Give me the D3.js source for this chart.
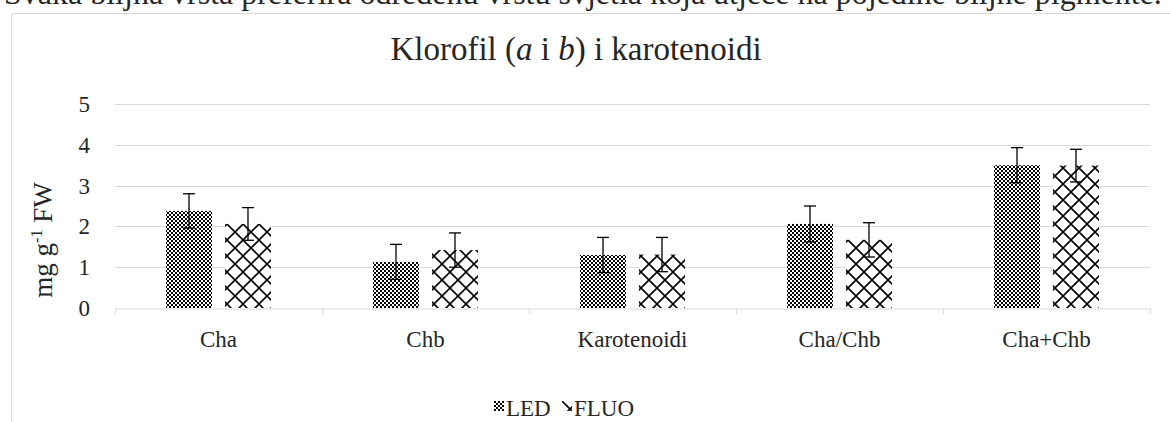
<!DOCTYPE html>
<html>
<head>
<meta charset="utf-8">
<script src="https://cdn.jsdelivr.net/npm/d3@7"></script>
<style>
  body { margin: 0; background: #fff; }
  text { font-family: "Liberation Serif", "Times New Roman", serif; fill: #262626; }
</style>
</head>
<body>
<div id="chart"></div>
<script>
// data
var categories = ["Cha", "Chb", "Karotenoidi", "Cha/Chb", "Cha+Chb"];
var series = ["LED", "FLUO"];
var ledValues = [2.38, 1.13, 1.30, 2.06, 3.50];
var ledErrors = [0.42, 0.43, 0.43, 0.44, 0.43];
var fluoValues = [2.06, 1.42, 1.31, 1.67, 3.49];
var fluoErrors = [0.40, 0.42, 0.42, 0.42, 0.40];
var yTicks = [0, 1, 2, 3, 4, 5];

// set dimensions
var width = 1170, height = 422;
var margin = {left: 115, right: 20, top: 104, bottom: 114};

var svg = d3.select("#chart")
            .append("svg")
            .attr("width", width)
            .attr("height", height);

// patterns
var defs = svg.append("defs");
var checker = defs.append("pattern")
            .attr("id", "checker")
            .attr("patternUnits", "userSpaceOnUse")
            .attr("width", 4).attr("height", 4);
checker.append("rect").attr("width", 4).attr("height", 4).attr("fill", "#fff");
checker.append("rect").attr("width", 2).attr("height", 2).attr("fill", "#000");
checker.append("rect").attr("x", 2).attr("y", 2).attr("width", 2).attr("height", 2).attr("fill", "#000");

var diamond = defs.append("pattern")
            .attr("id", "diamond")
            .attr("patternUnits", "userSpaceOnUse")
            .attr("width", 16).attr("height", 16);
diamond.append("rect").attr("width", 16).attr("height", 16).attr("fill", "#fff");
diamond.append("path")
       .attr("d", "M0,0L16,16M16,0L0,16M-2,14L2,18M14,-2L18,2M-2,2L2,-2M14,18L18,14")
       .attr("stroke", "#000").attr("stroke-width", 1.6);

var fills = {LED: "url(#checker)", FLUO: "url(#diamond)"};

// text above the chart (cut off by the page edge)
svg.append("text")
   .attr("x", 4).attr("y", 4)
   .attr("font-size", "32px")
   .attr("fill", "#000")
   .text("Svaka biljna vrsta preferira određenu vrstu svjetla koja utječe na pojedine biljne pigmente.");

// chart frame
svg.append("path")
   .attr("d", "M11.5," + height + "V13.5H" + width)
   .attr("fill", "none")
   .attr("stroke", "#d9d9d9");

// title
var title = svg.append("text")
   .attr("x", 576).attr("y", 60)
   .attr("text-anchor", "middle")
   .attr("font-size", "33px");
title.append("tspan").text("Klorofil (");
title.append("tspan").attr("font-style", "italic").text("a");
title.append("tspan").text(" i ");
title.append("tspan").attr("font-style", "italic").text("b");
title.append("tspan").text(") i karotenoidi");

// scales
var x0 = d3.scaleBand()
           .domain(categories)
           .range([margin.left, width - margin.right]);
var bw = x0.bandwidth();
var x1 = d3.scaleBand()
           .domain(series)
           .range([bw / 2 - 52.5, bw / 2 + 52.5])
           .paddingInner(0.22);
var y = d3.scaleLinear()
          .domain([0, 5])
          .range([height - margin.bottom, margin.top]);

// gridlines
svg.append("g")
   .selectAll("line")
   .data(yTicks.slice(1))
   .enter().append("line")
   .attr("x1", margin.left).attr("x2", width - margin.right)
   .attr("y1", function(d){ return Math.round(y(d)) + 0.5; })
   .attr("y2", function(d){ return Math.round(y(d)) + 0.5; })
   .attr("stroke", "#d9d9d9");

// y tick labels
svg.append("g")
   .selectAll("text")
   .data(yTicks)
   .enter().append("text")
   .attr("x", 90)
   .attr("y", function(d){ return y(d); })
   .attr("dy", "0.35em")
   .attr("text-anchor", "end")
   .attr("font-size", "23px")
   .text(function(d){ return d; });

// x axis
var xAxis = svg.append("g")
   .attr("transform", "translate(0," + (Math.round(y(0)) + 0.5) + ")")
   .call(d3.axisBottom(x0).tickSize(0).tickPadding(22));
xAxis.select(".domain").attr("stroke", "#d9d9d9");
xAxis.selectAll("text")
   .attr("font-size", "23px")
   .attr("font-family", "Liberation Serif, serif")
   .attr("fill", "#262626");
xAxis.selectAll(".bound")
   .data(d3.range(categories.length + 1))
   .enter().append("line")
   .attr("class", "bound")
   .attr("x1", function(i){ return Math.round(margin.left + i * bw) + 0.5; })
   .attr("x2", function(i){ return Math.round(margin.left + i * bw) + 0.5; })
   .attr("y1", 0).attr("y2", 6)
   .attr("stroke", "#d9d9d9");

// bars
var rows = categories.map(function(c, i){
  return {cat: c, vals: [
    {s: "LED", v: ledValues[i], e: ledErrors[i]},
    {s: "FLUO", v: fluoValues[i], e: fluoErrors[i]}
  ]};
});

var groups = svg.append("g")
   .selectAll("g")
   .data(rows)
   .enter().append("g")
   .attr("transform", function(d){ return "translate(" + x0(d.cat) + ",0)"; });

groups.selectAll("rect")
   .data(function(d){ return d.vals; })
   .enter().append("rect")
   .attr("x", function(d){ return x1(d.s); })
   .attr("y", function(d){ return y(d.v); })
   .attr("width", x1.bandwidth())
   .attr("height", function(d){ return y(0) - y(d.v); })
   .attr("fill", function(d){ return fills[d.s]; });

// error bars
var err = groups.selectAll(".err")
   .data(function(d){ return d.vals; })
   .enter().append("g")
   .attr("class", "err")
   .attr("stroke", "#000")
   .attr("stroke-width", 1.3);
err.append("line")
   .attr("x1", function(d){ return x1(d.s) + x1.bandwidth() / 2; })
   .attr("x2", function(d){ return x1(d.s) + x1.bandwidth() / 2; })
   .attr("y1", function(d){ return y(d.v - d.e); })
   .attr("y2", function(d){ return y(d.v + d.e); });
err.selectAll(".cap")
   .data(function(d){ return [d.v - d.e, d.v + d.e].map(function(t){ return {s: d.s, t: t}; }); })
   .enter().append("line")
   .attr("class", "cap")
   .attr("x1", function(d){ return x1(d.s) + x1.bandwidth() / 2 - 6; })
   .attr("x2", function(d){ return x1(d.s) + x1.bandwidth() / 2 + 6; })
   .attr("y1", function(d){ return y(d.t); })
   .attr("y2", function(d){ return y(d.t); });

// y axis title
var ytitle = svg.append("text")
   .attr("transform", "translate(52,240) rotate(-90)")
   .attr("text-anchor", "middle")
   .attr("font-size", "27px");
ytitle.append("tspan").text("mg g");
ytitle.append("tspan").attr("font-size", "16px").attr("dy", "-10").text("-1");
ytitle.append("tspan").attr("dy", "10").text(" FW");

// legend
var legendItems = [{s: "LED", x: 494}, {s: "FLUO", x: 562}];
var legend = svg.append("g")
   .selectAll("g")
   .data(legendItems)
   .enter().append("g")
   .attr("transform", function(d){ return "translate(" + d.x + ",401)"; });
legend.append("rect")
   .attr("width", 10).attr("height", 10)
   .attr("fill", function(d){ return fills[d.s]; });
legend.append("text")
   .attr("x", 12).attr("y", 15)
   .attr("font-size", "23px")
   .text(function(d){ return d.s; });
</script>
</body>
</html>
